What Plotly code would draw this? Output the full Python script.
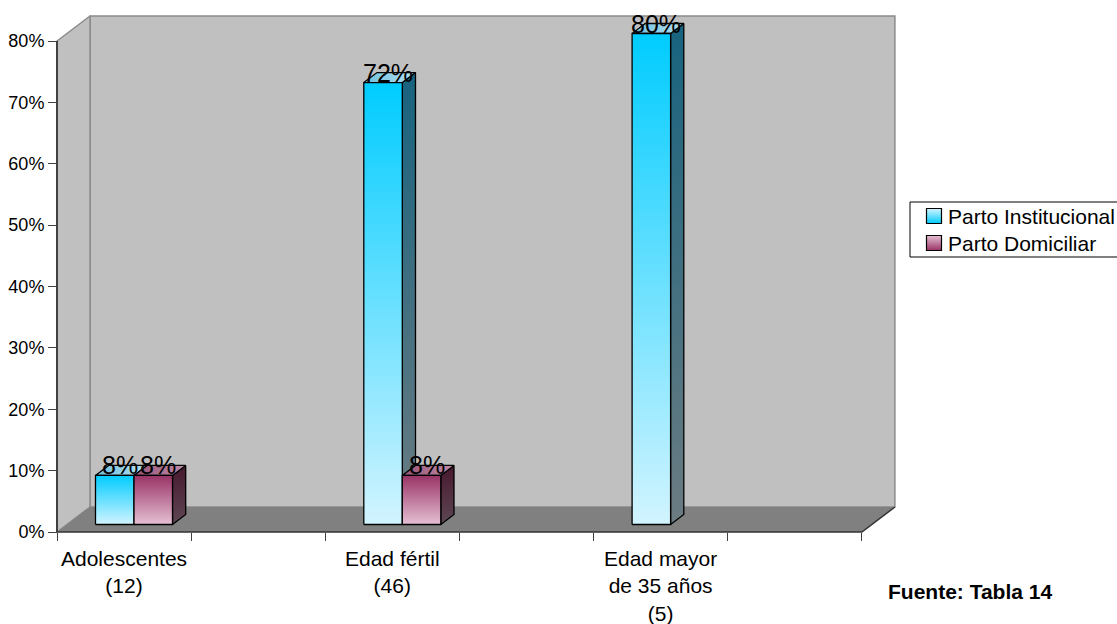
import plotly.graph_objects as go

# ---- data ----
categories = ["Adolescentes<br>(12)", "Edad fértil<br>(46)", "Edad mayor<br>de 35 años<br>(5)"]
series_names = ["Parto Institucional", "Parto Domiciliar"]
parto_institucional = [0.08, 0.72, 0.80]
parto_domiciliar = [0.08, 0.08, 0.0]
y_ticks = [0.0, 0.1, 0.2, 0.3, 0.4, 0.5, 0.6, 0.7, 0.8]
source_note = "Fuente: Tabla 14"

# ---- page / projection geometry ----
W, H = 1117, 624
PX_CAT = 268.3          # pixels per category step
PX_VAL = 613.75         # pixels per 100 %
CAT0_PX = 124.1         # pixel x of the first category centre (front plane)
ZERO_PX = 532           # pixel y of the 0 % line (front plane)
PLOT_L, PLOT_R = 40, 905
AXIS_PX = 57            # pixel x of the value axis
DEPTH_PX = (33, 25)     # oblique offset of the back wall

DX = DEPTH_PX[0] / PX_CAT
DY = DEPTH_PX[1] / PX_VAL
XL = (AXIS_PX - CAT0_PX) / PX_CAT
XR = XL + len(categories)
Y_MAX = y_ticks[-1]
BAR_W = 38.5 / PX_CAT
D_FRONT, D_BACK = 0.3, 0.7

# legend box (page pixels)
LEG_X0, LEG_X1, LEG_Y0, LEG_Y1 = 910, 1118, 202, 257
LEG_ROW_Y = [216, 243]
LEG_SWATCH_X, LEG_TEXT_X = 934, 946

FONT = "Liberation Sans, Arial, sans-serif"

fig = go.Figure()


def poly(pts, fill=None, line_color=None, line_width=1.0, gradient=None):
    xs = [p[0] for p in pts] + [pts[0][0]]
    ys = [p[1] for p in pts] + [pts[0][1]]
    kw = dict(x=xs, y=ys, mode="lines", hoverinfo="skip", showlegend=False,
              line=dict(color=line_color or "rgba(0,0,0,0)", width=line_width))
    if fill is not None or gradient is not None:
        kw["fill"] = "toself"
        kw["fillcolor"] = fill
    if gradient is not None:
        kw["fillgradient"] = gradient
    fig.add_trace(go.Scatter(**kw))


# ---- walls and floor ----
wall = "#c0c0c0"
edge = "#8a8a8a"
poly([(XL + DX, DY), (XR + DX, DY), (XR + DX, Y_MAX + DY), (XL + DX, Y_MAX + DY)],
     fill=wall, line_color=edge, line_width=1.5)
poly([(XL, 0), (XL + DX, DY), (XL + DX, Y_MAX + DY), (XL, Y_MAX)],
     fill=wall, line_color=edge, line_width=1.5)
poly([(XL, 0), (XR, 0), (XR + DX, DY), (XL + DX, DY)], fill="#808080")
fig.add_trace(go.Scatter(x=[XL, XR, XR + DX], y=[0, 0, DY], mode="lines",
                         hoverinfo="skip", showlegend=False,
                         line=dict(color="#333333", width=1.5)))
fig.add_trace(go.Scatter(x=[XL, XL], y=[0, Y_MAX], mode="lines",
                         hoverinfo="skip", showlegend=False,
                         line=dict(color="#404040", width=2)))

# ---- bar styling per series ----
styles = [
    dict(front=("#d2f4ff", "#00ccff"), side=("#6c7c82", "#17637f"),
         top=("#6fbfdf", "#b4e0f0")),
    dict(front=("#e6c0d4", "#993366"), side=("#5e4753", "#47182f"),
         top=("#95557a", "#c08aa6")),
]

annotations = []

for i, cat in enumerate(categories):
    for s, values in enumerate([parto_institucional, parto_domiciliar]):
        v = values[i]
        if v <= 0:
            continue
        st = styles[s]
        x0 = i - BAR_W + s * BAR_W + D_FRONT * DX
        x1 = x0 + BAR_W
        yb = D_FRONT * DY
        yt = v + yb
        bdx = (D_BACK - D_FRONT) * DX
        bdy = (D_BACK - D_FRONT) * DY
        # side face
        poly([(x1, yb), (x1 + bdx, yb + bdy), (x1 + bdx, yt + bdy), (x1, yt)],
             line_color="black", line_width=1.3,
             gradient=dict(type="vertical", start=yb, stop=yt + bdy,
                           colorscale=[[0, st["side"][0]], [1, st["side"][1]]]))
        # top face
        poly([(x0, yt), (x1, yt), (x1 + bdx, yt + bdy), (x0 + bdx, yt + bdy)],
             line_color="black", line_width=1.3,
             gradient=dict(type="horizontal", start=x0, stop=x1 + bdx,
                           colorscale=[[0, st["top"][0]], [1, st["top"][1]]]))
        # front face
        poly([(x0, yb), (x1, yb), (x1, yt), (x0, yt)],
             line_color="black", line_width=1.3,
             gradient=dict(type="vertical", start=yb, stop=yt,
                           colorscale=[[0, st["front"][0]], [1, st["front"][1]]]))
        annotations.append(dict(
            x=(x0 + x1) / 2, y=yt, xref="x", yref="y", text=f"{v:.0%}",
            showarrow=False, xanchor="center", yanchor="middle",
            xshift=5, yshift=10, font=dict(family=FONT, size=25, color="black")))

# ---- legend: swatches on a page-pixel overlay axis ----
for s, name in enumerate(series_names):
    st = styles[s]
    fig.add_trace(go.Scatter(
        x=[LEG_SWATCH_X], y=[LEG_ROW_Y[s]], xaxis="x2", yaxis="y2",
        mode="markers", hoverinfo="skip", showlegend=False,
        marker=dict(symbol="square", size=15, color=st["front"][0],
                    gradient=dict(type="vertical", color=st["front"][1]),
                    line=dict(color="black", width=1.2))))
    annotations.append(dict(
        x=LEG_TEXT_X, y=LEG_ROW_Y[s], xref="x2", yref="y2", text=name,
        showarrow=False, xanchor="left", yanchor="middle",
        font=dict(family=FONT, size=21, color="black")))

shapes = [dict(type="rect", xref="x2", yref="y2",
               x0=LEG_X0, x1=LEG_X1, y0=LEG_Y0, y1=LEG_Y1,
               line=dict(color="black", width=1), fillcolor="rgba(0,0,0,0)")]

# ---- category labels ----
for i, cat in enumerate(categories):
    annotations.append(dict(
        x=i, y=0, xref="x", yref="y", text=cat, showarrow=False,
        xanchor="center", yanchor="top", yshift=-13,
        font=dict(family=FONT, size=21, color="black")))

annotations.append(dict(
    x=970, y=591, xref="x2", yref="y2",
    text=f"<b>{source_note}</b>", showarrow=False,
    xanchor="center", yanchor="middle",
    font=dict(family=FONT, size=21, color="black")))

x_range = [(PLOT_L - CAT0_PX) / PX_CAT, (PLOT_R - CAT0_PX) / PX_CAT]
y_range = [(ZERO_PX - H) / PX_VAL, ZERO_PX / PX_VAL]

fig.update_layout(
    width=W, height=H,
    margin=dict(l=0, r=0, t=0, b=0, autoexpand=False),
    paper_bgcolor="white", plot_bgcolor="rgba(0,0,0,0)",
    font=dict(family=FONT, color="black"),
    hovermode=False, showlegend=False,
    xaxis=dict(domain=[PLOT_L / W, PLOT_R / W], range=x_range,
               anchor="free", position=(H - ZERO_PX) / H,
               tickmode="array",
               tickvals=[XL + k * 0.5 for k in range(2 * len(categories) + 1)],
               ticks="outside", ticklen=8, tickwidth=1.2, tickcolor="#404040",
               showticklabels=False, showgrid=False, zeroline=False,
               showline=False, fixedrange=True),
    yaxis=dict(domain=[0, 1], range=y_range, anchor="free",
               position=AXIS_PX / W, tickmode="array", tickvals=y_ticks,
               tickformat=".0%", ticks="outside", ticklen=9, tickwidth=1.2,
               tickcolor="#404040", tickfont=dict(size=18, family=FONT),
               showgrid=False, zeroline=False, showline=False, fixedrange=True),
    xaxis2=dict(domain=[0, 1], range=[0, W], anchor="y2", visible=False,
                fixedrange=True),
    yaxis2=dict(domain=[0, 1], range=[H, 0], anchor="x2", visible=False,
                fixedrange=True),
    annotations=annotations,
    shapes=shapes,
)

fig.write_html("out.html")
